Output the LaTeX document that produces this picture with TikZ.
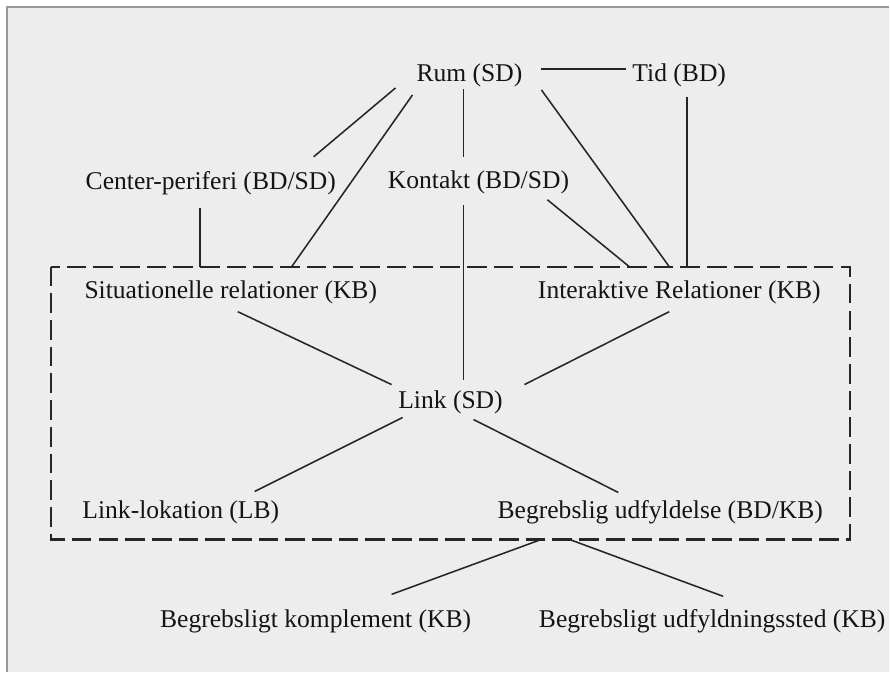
\documentclass[tikz,border=0pt]{standalone}
\usepackage{fontspec}
\setmainfont{Liberation Serif}
\usepackage{tikz}

\begin{document}
\begin{tikzpicture}[x=0.025cm,y=-0.025cm]
\fill[white] (0,0) rectangle (890,673);
\fill[black!7] (7,7) rectangle (890,673);
\draw[black!40, line width=1.4pt] (7,673) -- (7,7) -- (890,7);
\useasboundingbox (0,0) rectangle (890,673);

\begin{scope}[every node/.style={text=black!92,font=\fontsize{18.2}{22}\selectfont}]
    \node (rum) at (470,75) {Rum (SD)};
    \node (tid) at (680,75) {Tid (BD)};
    \node (cp) at (211,183) {Center-periferi (BD/SD)};
    \node (kontakt) at (479,183) {Kontakt (BD/SD)};
    \node (sit) at (231,293) {Situationelle relationer (KB)};
    \node (inter) at (680,293) {Interaktive Relationer (KB)};
    \node (link) at (451,403) {Link (SD)};
    \node (lok) at (181,513) {Link-lokation (LB)};
    \node (udf) at (661,513) {Begrebslig udfyldelse (BD/KB)};
    \node (kompl) at (316,622) {Begrebsligt komplement (KB)};
    \node (sted) at (713,622) {Begrebsligt udfyldningssted (KB)};
\end{scope}

% dashed box
\draw[black!85, line width=1.7pt, dash pattern=on 14pt off 5pt] (51,267) rectangle (851,540);
\coordinate (topcp) at (200,267);
\coordinate (topsit) at (292,267);
\coordinate (topkon) at (630,267);
\coordinate (toprum) at (670,267);
\coordinate (toptid) at (688,267);
\coordinate (bota) at (542,540);
\coordinate (botb) at (570,540);

\begin{scope}[every edge/.style={draw=black!85,line width=1.1pt}]
    \path ([shift={(72,-6)}]rum.center) edge ([shift={(-53,-6)}]tid.center);
    \path ([shift={(-74,13)}]rum.center) edge ([shift={(103,-26)}]cp.center);
    \path ([shift={(-57,20)}]rum.center) edge (topsit);
    \path ([shift={(-6,14)}]rum.center) edge ([shift={(-15,-26)}]kontakt.center);
    \path ([shift={(72,15)}]rum.center) edge (toprum);
    \path ([shift={(8,22)}]tid.center) edge (toptid);
    \path ([shift={(-11,25)}]cp.center) edge (topcp);
    \path ([shift={(-15,22)}]kontakt.center) edge ([shift={(13,-23)}]link.center);
    \path ([shift={(69,17)}]kontakt.center) edge (topkon);
    \path ([shift={(7,19)}]sit.center) edge ([shift={(-59,-18)}]link.center);
    \path ([shift={(-10,19)}]inter.center) edge ([shift={(74,-18)}]link.center);
    \path ([shift={(-48,15)}]link.center) edge ([shift={(74,-21)}]lok.center);
    \path ([shift={(23,17)}]link.center) edge ([shift={(-42,-20)}]udf.center);
    \path (bota) edge ([shift={(76,-27)}]kompl.center);
    \path (botb) edge ([shift={(11,-25)}]sted.center);
\end{scope}
\end{tikzpicture}
\end{document}
